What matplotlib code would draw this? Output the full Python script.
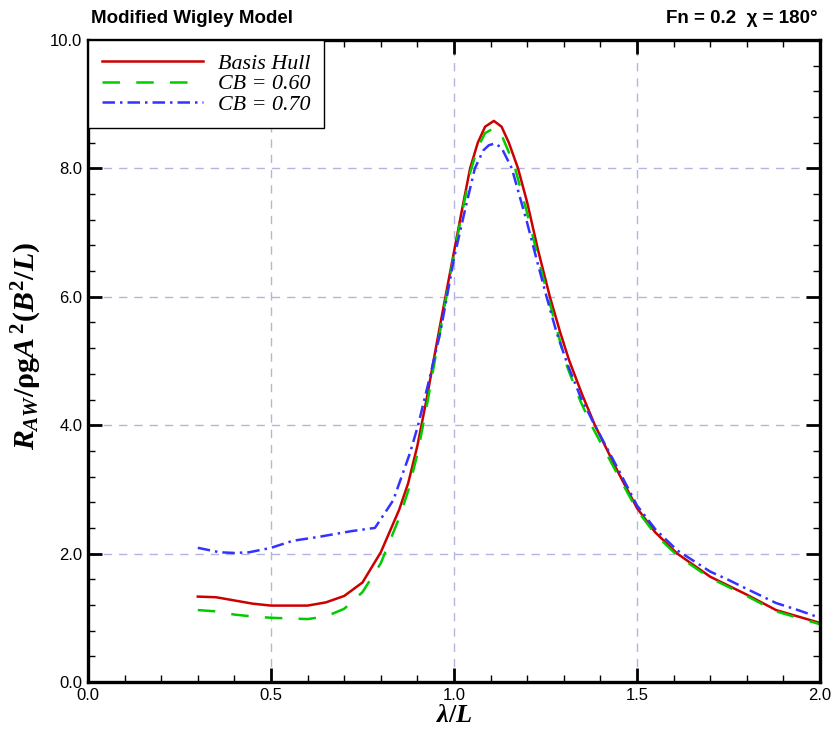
import matplotlib
matplotlib.use('Agg')
import matplotlib.pyplot as plt
from matplotlib.ticker import MultipleLocator, FormatStrFormatter

plt.rcParams['font.family'] = 'Liberation Sans'
plt.rcParams['mathtext.fontset'] = 'custom'
plt.rcParams['mathtext.it'] = 'Liberation Serif:italic:bold'
plt.rcParams['mathtext.rm'] = 'Liberation Serif:bold'
plt.rcParams['mathtext.bf'] = 'Liberation Serif:bold'

# Basis Hull
x_basis = [0.30, 0.35, 0.40, 0.45, 0.50, 0.55, 0.60, 0.65, 0.70, 0.75, 0.80, 0.85,
           0.875, 0.90, 0.925, 0.953, 0.975, 1.00, 1.02, 1.044, 1.065, 1.085, 1.109,
           1.13, 1.15, 1.175, 1.20, 1.23, 1.262, 1.29, 1.314, 1.35, 1.385,
           1.45, 1.50, 1.55, 1.61, 1.70, 1.75, 1.80, 1.88, 1.94, 2.00]
y_basis = [1.33, 1.32, 1.27, 1.22, 1.19, 1.19, 1.19, 1.24, 1.34, 1.55, 2.02, 2.68,
           3.10, 3.68, 4.40, 5.28, 5.95, 6.70, 7.30, 8.00, 8.40, 8.65, 8.74,
           8.65, 8.40, 8.00, 7.47, 6.72, 6.00, 5.45, 5.02, 4.48, 4.00,
           3.25, 2.71, 2.33, 2.00, 1.64, 1.50, 1.36, 1.12, 1.02, 0.92]

# CB = 0.60
x_cb60 = [0.30, 0.35, 0.40, 0.45, 0.50, 0.55, 0.60, 0.65, 0.70, 0.75, 0.80, 0.85,
          0.875, 0.90, 0.925, 0.953, 0.975, 1.00, 1.02, 1.045, 1.065, 1.085, 1.11,
          1.13, 1.15, 1.167, 1.20, 1.23, 1.257, 1.29, 1.31, 1.345, 1.38,
          1.45, 1.50, 1.55, 1.61, 1.70, 1.75, 1.80, 1.88, 1.94, 2.00]
y_cb60 = [1.12, 1.10, 1.05, 1.02, 1.00, 0.99, 0.98, 1.02, 1.14, 1.40, 1.85, 2.55,
          2.98, 3.55, 4.28, 5.18, 5.88, 6.65, 7.25, 7.95, 8.33, 8.55, 8.63,
          8.52, 8.25, 8.00, 7.30, 6.60, 6.00, 5.30, 4.90, 4.38, 3.95,
          3.20, 2.68, 2.30, 1.97, 1.62, 1.48, 1.34, 1.10, 1.00, 0.90]

# CB = 0.70
x_cb70 = [0.30, 0.36, 0.40, 0.44, 0.50, 0.56, 0.63, 0.72, 0.784, 0.834, 0.88, 0.902,
          0.934, 0.962, 0.98, 1.00, 1.03, 1.057, 1.08, 1.095, 1.112, 1.13, 1.145, 1.158,
          1.20, 1.225, 1.253, 1.28, 1.31, 1.345, 1.38, 1.45, 1.50, 1.55, 1.61, 1.70,
          1.75, 1.80, 1.88, 1.94, 2.00]
y_cb70 = [2.09, 2.02, 2.01, 2.02, 2.09, 2.20, 2.26, 2.35, 2.40, 2.83, 3.57, 4.00,
          4.75, 5.43, 5.98, 6.60, 7.35, 8.00, 8.28, 8.36, 8.39, 8.32, 8.15, 8.00,
          7.15, 6.60, 6.00, 5.45, 4.95, 4.45, 4.05, 3.30, 2.75, 2.38, 2.05, 1.72,
          1.59, 1.45, 1.23, 1.12, 1.00]

fig = plt.figure(figsize=(8.38, 7.33), dpi=100)
ax = fig.add_axes([0.105, 0.0696, 0.8735, 0.8758])

ax.plot(x_basis, y_basis, color='#CC0000', lw=1.8, label='Basis Hull')
ax.plot(x_cb60, y_cb60, color='#00CC00', lw=1.8, ls=(0, (7, 6.5)), label='CB = 0.60')
ax.plot(x_cb70, y_cb70, color='#3333FF', lw=1.8, ls=(0, (5, 2, 1, 2)), label='CB = 0.70')

ax.set_xlim(0, 2.0)
ax.set_ylim(0, 10.0)
ax.xaxis.set_major_locator(MultipleLocator(0.5))
ax.xaxis.set_minor_locator(MultipleLocator(0.1))
ax.yaxis.set_major_locator(MultipleLocator(2.0))
ax.yaxis.set_minor_locator(MultipleLocator(0.4))
ax.xaxis.set_major_formatter(FormatStrFormatter('%.1f'))
ax.yaxis.set_major_formatter(FormatStrFormatter('%.1f'))

ax.grid(True, which='major', ls=(0, (6, 5)), color='#B4B4E0', lw=1.0)
ax.tick_params(which='major', direction='in', length=10, width=2,
               top=True, right=True, labelsize=12, pad=4)
ax.tick_params(which='minor', direction='in', length=5, width=1,
               top=True, right=True)
for s in ax.spines.values():
    s.set_linewidth(2.4)

ax.set_xlabel(r'$\lambda/L$', fontsize=19, labelpad=0)
ax.set_ylabel(r'$R_{AW}/\mathrm{\rho g}A^{\,2}(B^2/L)$', fontsize=21.5)
ax.yaxis.set_label_coords(-0.06, 0.523)

leg = ax.legend(loc='upper left', borderaxespad=0, handlelength=4.6, handletextpad=0.7,
                labelspacing=0.0, borderpad=0.62, fancybox=False, framealpha=1,
                edgecolor='black',
                prop={'family': 'Liberation Serif', 'style': 'italic', 'size': 15.8})
leg.get_frame().set_linewidth(1.0)

fig.text(0.108, 0.963, 'Modified Wigley Model', fontsize=13.5, fontweight='bold', ha='left', va='bottom')
fig.text(0.976, 0.963, 'Fn = 0.2  \u03c7 = 180\u00b0', fontsize=13.5, fontweight='bold', ha='right', va='bottom')

fig.savefig('out.png', dpi=100)
